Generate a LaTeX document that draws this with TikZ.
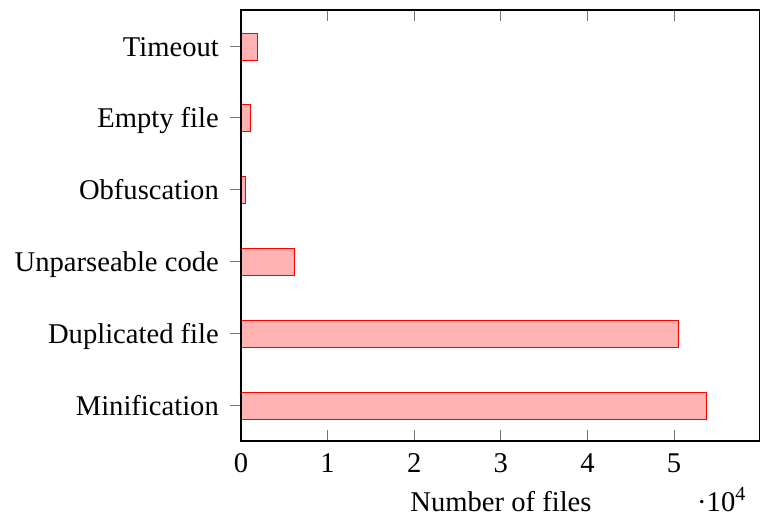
\documentclass[tikz,border=0pt]{standalone}
\usepackage{fontspec}
\setmainfont{Liberation Serif}
\begin{document}
\begin{tikzpicture}[x=1pt,y=-1pt,
  lbl/.style={font=\fontsize{28.6}{32}\selectfont, inner sep=0pt},
  bar/.style={draw=red, fill=red!30, line width=1pt},
  tickline/.style={black!55, line width=0.9pt},
  axisline/.style={black, line width=1.2pt}]
\useasboundingbox (0,0) rectangle (760,517);
% bars
\foreach \y/\w/\n in {46.5/16.3/bt, 117.5/9/be, 189.5/4.3/bo, 261.5/53.3/bu, 333.5/437.3/bd, 405.5/465.7/bm}{
  \draw[bar] (241,\y-13.5) rectangle (241+\w,\y+13.5);
  \draw[tickline] (230,\y) -- (241,\y);
}
% x ticks
\foreach \k in {1,...,5}{
  \draw[tickline] (241+86.6*\k,441) -- (241+86.6*\k,430);
  \draw[tickline] (241+86.6*\k,10) -- (241+86.6*\k,21);
}
% axis box
\draw[axisline] (241,10) rectangle (759.4,441);
% y labels
\node[lbl, anchor=base east] (lt) at (219,56) {Timeout};
\node[lbl, anchor=base east] (le) at (219,127) {Empty file};
\node[lbl, anchor=base east] (lo) at (219,199) {Obfuscation};
\node[lbl, anchor=base east] (lu) at (219,271) {Unparseable code};
\node[lbl, anchor=base east] (ld) at (219,343) {Duplicated file};
\node[lbl, anchor=base east] (lm) at (219,415) {Minification};
% x labels
\foreach \k in {0,...,5}{
  \node[lbl, anchor=base] (x\k) at (241+86.6*\k,472) {\k};
}
\node[lbl, anchor=base] (xl) at (501,511) {Number of files};
\node[lbl, anchor=base west] (xs) at (697,511) {·10\raisebox{11pt}{\fontsize{20}{22}\selectfont 4}};
\end{tikzpicture}
\end{document}
